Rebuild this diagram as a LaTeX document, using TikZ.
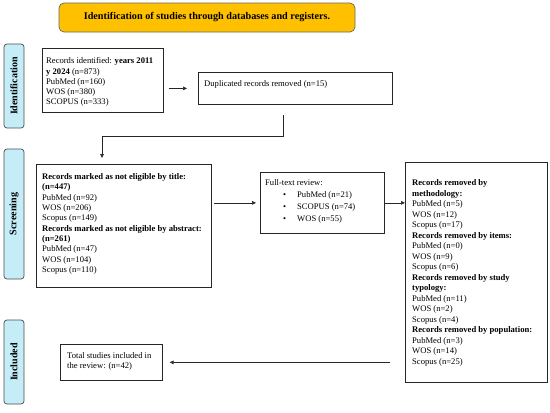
\documentclass[tikz,border=0pt]{standalone}
\usepackage{fontspec}
\setmainfont{Liberation Serif}
\usetikzlibrary{arrows.meta}
\definecolor{sideblue}{HTML}{C4EDF8}
\definecolor{titleorange}{HTML}{FFC000}
\definecolor{titleborder}{HTML}{5E6B60}
\begin{document}
\begin{tikzpicture}[x=1pt,y=-1pt,
  box/.style={draw=black!85, line width=0.7pt, rectangle, inner sep=0pt, anchor=north west},
  txt/.style={anchor=north west, inner sep=0pt, align=left, font=\fontsize{8.6}{10.3}\selectfont},
  side/.style={draw=black!70, line width=0.7pt, fill=sideblue, rounded corners=3pt, rotate=90, inner sep=0pt, font=\fontsize{10}{12}\selectfont\bfseries, minimum height=20pt},
  arr/.style={draw=black!85, line width=0.6pt, -{Triangle[length=4pt,width=3.6pt]}},
  plain/.style={draw=black!85, line width=0.6pt},
]
\useasboundingbox (0,0) rectangle (550,413);

% title
\node[draw=titleborder, line width=0.7pt, fill=titleorange, rounded corners=5pt, minimum width=296pt, minimum height=29pt, inner sep=0pt, font=\fontsize{10.2}{12}\selectfont\bfseries] (title) at (207,17.5) {Identification of studies through databases and registers.};

% side labels
\node[side, minimum width=84pt] (sidid) at (14,86) {Identification};
\node[side, minimum width=130pt] (sidscr) at (14,214) {Screening};
\node[side, minimum width=84pt] (sidinc) at (14,362) {Included};

% boxes
\node[box, minimum width=121pt, minimum height=64pt] (rid) at (42,48) {};
\node[txt] (ridt) at (46,57.5) {Records identified: \textbf{years 2011}\\ \textbf{y 2024} (n=873)\\ PubMed (n=160)\\ WOS (n=380)\\ SCOPUS (n=333)};

\node[box, minimum width=194pt, minimum height=32pt] (dup) at (198,72) {};
\node[txt] (dupt) at (204,80.5) {Duplicated records removed (n=15)};

\node[box, minimum width=175pt, minimum height=123pt] (rm) at (36,164) {};
\node[txt] (rmt) at (42,173.5) {\textbf{Records marked as not eligible by title:}\\ \textbf{(n=447)}\\ PubMed (n=92)\\ WOS (n=206)\\ Scopus (n=149)\\ \textbf{Records marked as not eligible by abstract:}\\ \textbf{(n=261)}\\ PubMed (n=47)\\ WOS (n=104)\\ Scopus (n=110)};

\node[box, minimum width=124pt, minimum height=61pt] (ft) at (260,172) {};
\node[txt, font=\fontsize{8.6}{11.8}\selectfont] (ftt) at (265,179.5) {Full-text review:\\ \hspace*{18pt}\makebox[14pt][l]{\textbullet}PubMed (n=21)\\ \hspace*{18pt}\makebox[14pt][l]{\textbullet}SCOPUS (n=74)\\ \hspace*{18pt}\makebox[14pt][l]{\textbullet}WOS (n=55)};

\node[box, minimum width=142pt, minimum height=220pt] (rr) at (405,162) {};
\node[txt, font=\fontsize{8.6}{10.5}\selectfont] (rrt) at (412,179.5) {\textbf{Records removed by}\\ \textbf{methodology:}\\ PubMed (n=5)\\ WOS (n=12)\\ Scopus (n=17)\\ \textbf{Records removed by items:}\\ PubMed (n=0)\\ WOS (n=9)\\ Scopus (n=6)\\ \textbf{Records removed by study}\\ \textbf{typology:}\\ PubMed (n=11)\\ WOS (n=2)\\ Scopus (n=4)\\ \textbf{Records removed by population:}\\ PubMed (n=3)\\ WOS (n=14)\\ Scopus (n=25)};

\node[box, minimum width=102pt, minimum height=36pt] (tot) at (60,344) {};
\node[txt] (tott) at (67,352.5) {Total studies included in\\ the review: (n=42)};

% connectors
\draw[arr, shorten <=5pt, shorten >=11pt] (rid.east |- dup.west) -- (dup.west);
\coordinate (dupout) at (283,115);
\coordinate (bend) at (102,136);
\coordinate (rmin) at (102,158);
\draw[arr] (dupout) |- (bend) -- (rmin);
\draw[arr, shorten <=2pt, shorten >=4pt] (rm.east |- ft.west) -- (ft.west);
\draw[arr] (ft.east) -- (ft.east -| rr.west);
\draw[arr, shorten <=15pt, shorten >=7pt] (tot.east -| rr.west) -- (tot.east);
\end{tikzpicture}
\end{document}
